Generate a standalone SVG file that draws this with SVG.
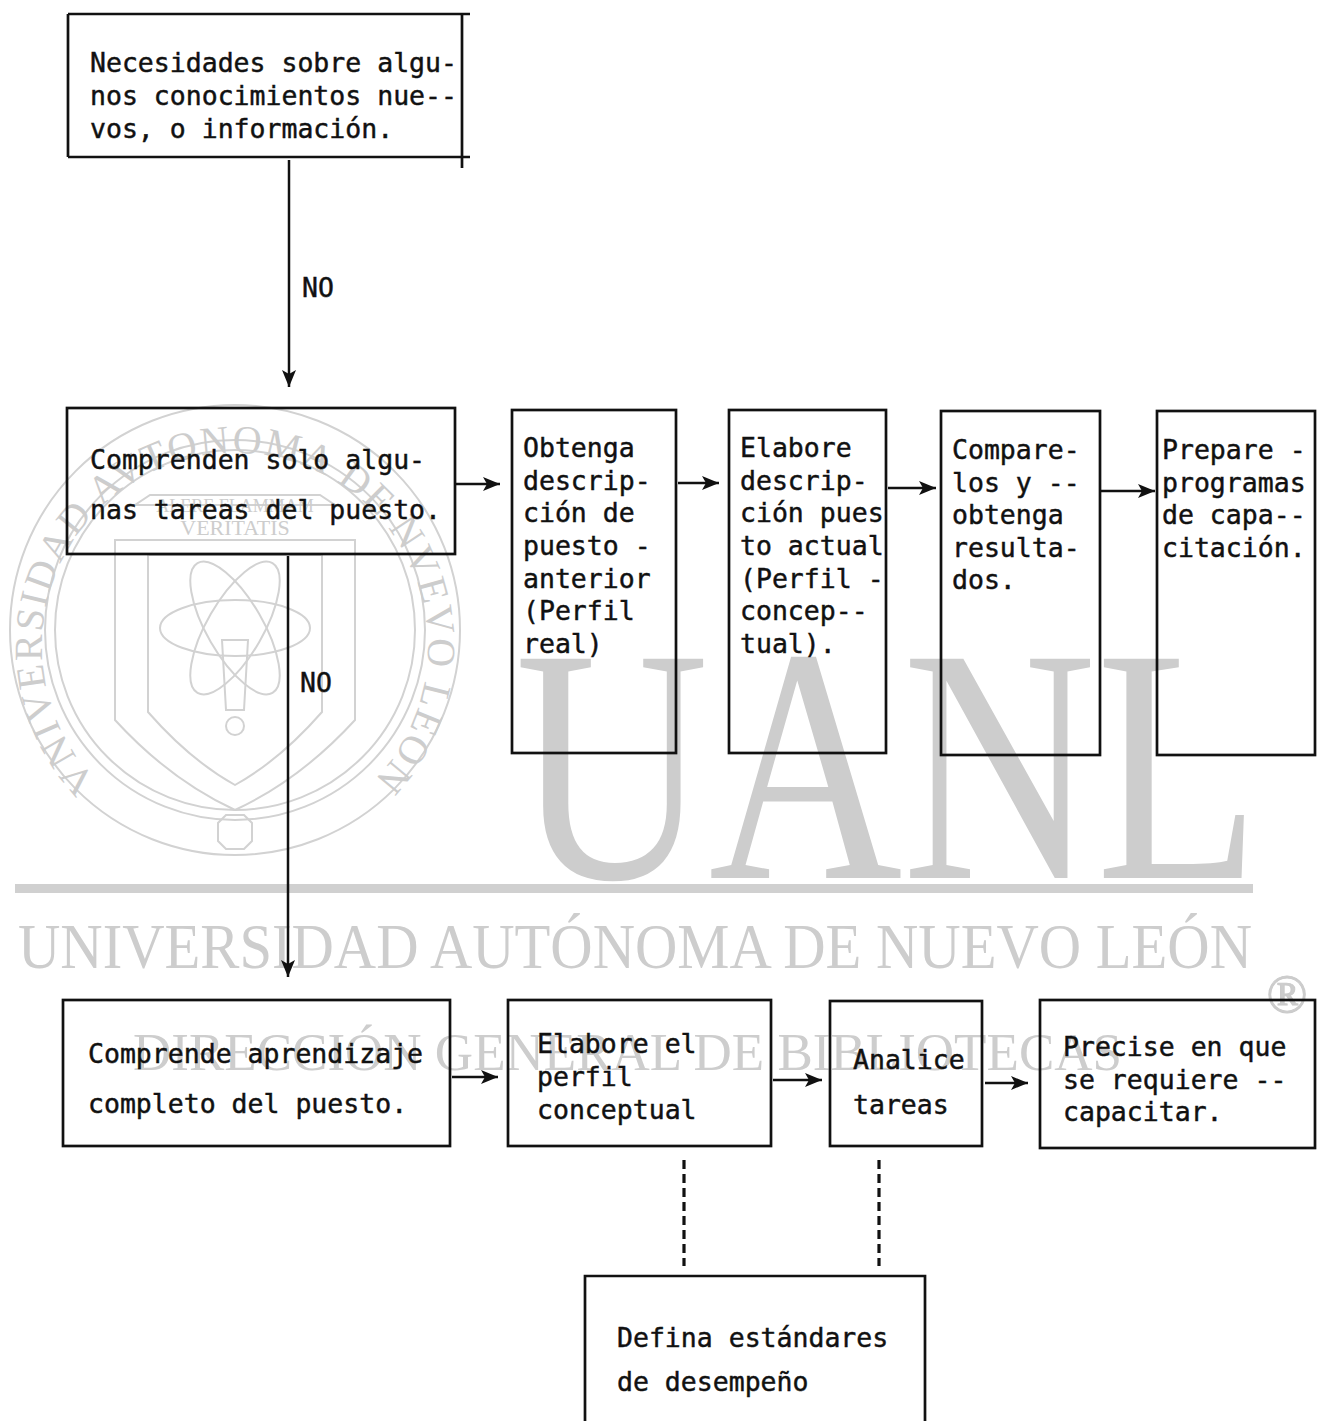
<svg xmlns="http://www.w3.org/2000/svg" width="1320" height="1421" viewBox="0 0 1320 1421">
<style>
.box{fill:none;stroke:#111;stroke-width:2.7}
.t{font-family:"DejaVu Sans Mono","Liberation Mono",monospace;font-size:26.5px;fill:#111;stroke:#111;stroke-width:0.45}
.con{fill:none;stroke:#111;stroke-width:2.5}
.dash{fill:none;stroke:#111;stroke-width:3.2;stroke-dasharray:9 5}
.wm{font-family:"Liberation Serif","DejaVu Serif",serif;fill:#cdcdcd}
.seal{fill:none;stroke:#d2d2d2;stroke-width:2}
</style>
<defs>
<marker id="ah" markerWidth="18" markerHeight="16" refX="17" refY="8" orient="auto" markerUnits="userSpaceOnUse">
<path d="M0,1 L17,8 L0,15 L4,8 Z" fill="#111"/>
</marker>
<path id="sealArc" d="M 103 787 A 193 193 0 1 1 367 787" fill="none"/>
</defs>

<g id="watermark">
<circle class="seal" cx="235" cy="630" r="225"/>
<circle class="seal" cx="235" cy="630" r="190"/>
<circle class="seal" cx="235" cy="630" r="180"/>
<text class="wm" font-size="40"><textPath href="#sealArc" startOffset="50%" text-anchor="middle" letter-spacing="2">VNIVERSIDAD AVTONOMA DE NVEVO LEON</textPath></text>
<path class="seal" d="M 150 495 L 320 495 L 335 505 L 135 505 Z"/>
<path class="seal" d="M 115 540 L 355 540 L 355 720 Q 300 780 235 810 Q 170 780 115 720 Z"/>
<path class="seal" d="M 148 555 L 322 555 L 322 712 Q 280 760 235 785 Q 190 760 148 712 Z"/>
<ellipse class="seal" cx="235" cy="628" rx="75" ry="28"/>
<ellipse class="seal" cx="235" cy="628" rx="75" ry="28" transform="rotate(60 235 628)"/>
<ellipse class="seal" cx="235" cy="628" rx="75" ry="28" transform="rotate(-60 235 628)"/>
<path class="seal" d="M 222 640 L 248 640 L 244 710 L 226 710 Z"/>
<circle class="seal" cx="235" cy="726" r="9"/>
<path class="seal" d="M 226 815 L 244 815 L 252 823 L 252 841 L 244 849 L 226 849 L 218 841 L 218 823 Z"/>
<text class="wm" x="235" y="535" font-size="22" text-anchor="middle">VERITATIS</text>
<text class="wm" x="235" y="512" font-size="18" text-anchor="middle">ALERE FLAMMAM</text>
<text class="wm" x="515" y="878" font-size="335" textLength="745" lengthAdjust="spacingAndGlyphs" fill="#d2d2d2">UANL</text>
<rect x="15" y="884" width="1238" height="9" fill="#d0d0d0"/>
<text class="wm" x="18" y="968" font-size="64" textLength="1234" lengthAdjust="spacingAndGlyphs" fill="#c4c4c4">UNIVERSIDAD AUTÓNOMA DE NUEVO LEÓN</text>
<text class="wm" x="1287" y="1012" font-size="54" text-anchor="middle" fill="#cacaca" stroke="#cacaca" stroke-width="1">®</text>
<text class="wm" x="133" y="1070" font-size="53" textLength="989" lengthAdjust="spacingAndGlyphs" fill="#d6d6d6">DIRECCIÓN GENERAL DE BIBLIOTECAS</text>
</g>

<g id="connectors">
<line class="con" x1="289" y1="160" x2="289" y2="387" marker-end="url(#ah)"/>
<line class="con" x1="288" y1="556" x2="288" y2="977" marker-end="url(#ah)"/>
<line class="con" x1="456" y1="484" x2="500" y2="484" marker-end="url(#ah)"/>
<line class="con" x1="678" y1="483" x2="719" y2="483" marker-end="url(#ah)"/>
<line class="con" x1="888" y1="488" x2="936" y2="488" marker-end="url(#ah)"/>
<line class="con" x1="1101" y1="491" x2="1155" y2="491" marker-end="url(#ah)"/>
<line class="con" x1="452" y1="1077" x2="498" y2="1077" marker-end="url(#ah)"/>
<line class="con" x1="773" y1="1080" x2="822" y2="1080" marker-end="url(#ah)"/>
<line class="con" x1="985" y1="1083" x2="1028" y2="1083" marker-end="url(#ah)"/>
<line class="dash" x1="684" y1="1160" x2="684" y2="1266"/>
<line class="dash" x1="879" y1="1160" x2="879" y2="1266"/>
<text class="t" x="302" y="297">NO</text>
<text class="t" x="300" y="692">NO</text>
</g>

<g id="n1">
<path class="box" d="M68 14 L470 14 M68 14 L68 157 M462 14 L462 168 M68 157 L470 157"/>
<text class="t" x="90" y="72">Necesidades sobre algu-</text>
<text class="t" x="90" y="105">nos conocimientos nue--</text>
<text class="t" x="90" y="138">vos, o información.</text>
</g>

<g id="n2">
<rect class="box" x="67" y="408" width="388" height="146"/>
<text class="t" x="90" y="469">Comprenden solo algu-</text>
<text class="t" x="90" y="519">nas tareas del puesto.</text>
</g>

<g id="n3">
<rect class="box" x="512" y="410" width="164" height="343"/>
<text class="t" x="523" y="457">Obtenga</text>
<text class="t" x="523" y="490">descrip-</text>
<text class="t" x="523" y="522">ción de</text>
<text class="t" x="523" y="555">puesto -</text>
<text class="t" x="523" y="588">anterior</text>
<text class="t" x="523" y="620">(Perfil</text>
<text class="t" x="523" y="653">real)</text>
</g>

<g id="n4">
<rect class="box" x="729" y="410" width="157" height="343"/>
<text class="t" x="740" y="457">Elabore</text>
<text class="t" x="740" y="490">descrip-</text>
<text class="t" x="740" y="522">ción pues</text>
<text class="t" x="740" y="555">to actual</text>
<text class="t" x="740" y="588">(Perfil -</text>
<text class="t" x="740" y="620">concep--</text>
<text class="t" x="740" y="653">tual).</text>
</g>

<g id="n5">
<rect class="box" x="941" y="411" width="159" height="344"/>
<text class="t" x="952" y="459">Compare-</text>
<text class="t" x="952" y="492">los y --</text>
<text class="t" x="952" y="524">obtenga</text>
<text class="t" x="952" y="557">resulta-</text>
<text class="t" x="952" y="589">dos.</text>
</g>

<g id="n6">
<rect class="box" x="1157" y="411" width="158" height="344"/>
<text class="t" x="1162" y="459">Prepare -</text>
<text class="t" x="1162" y="492">programas</text>
<text class="t" x="1162" y="524">de capa--</text>
<text class="t" x="1162" y="557">citación.</text>
</g>

<g id="n7">
<rect class="box" x="63" y="1000" width="387" height="146"/>
<text class="t" x="88" y="1063">Comprende aprendizaje</text>
<text class="t" x="88" y="1113">completo del puesto.</text>
</g>

<g id="n8">
<rect class="box" x="508" y="1000" width="263" height="146"/>
<text class="t" x="537" y="1053">Elabore el</text>
<text class="t" x="537" y="1086">perfil</text>
<text class="t" x="537" y="1119">conceptual</text>
</g>

<g id="n9">
<rect class="box" x="830" y="1001" width="152" height="145"/>
<text class="t" x="853" y="1069">Analice</text>
<text class="t" x="853" y="1114">tareas</text>
</g>

<g id="n10">
<rect class="box" x="1040" y="1000" width="275" height="148"/>
<text class="t" x="1063" y="1056">Precise en que</text>
<text class="t" x="1063" y="1089">se requiere --</text>
<text class="t" x="1063" y="1121">capacitar.</text>
</g>

<g id="n11">
<path class="box" d="M585 1421 L585 1276 L925 1276 L925 1421"/>
<text class="t" x="617" y="1347">Defina estándares</text>
<text class="t" x="617" y="1391">de desempeño</text>
</g>
</svg>
